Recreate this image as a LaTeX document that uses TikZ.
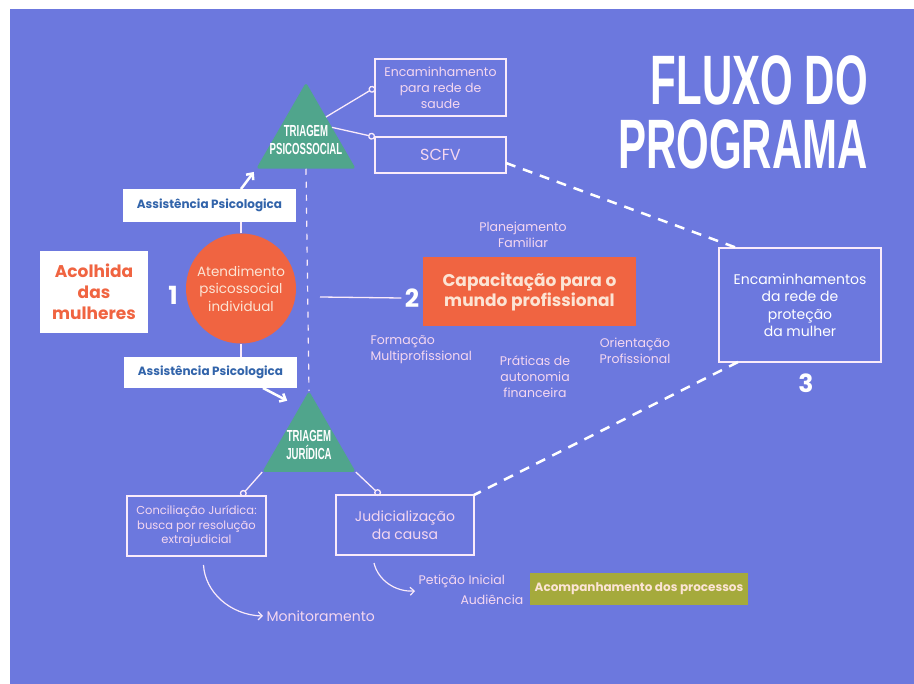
\documentclass[tikz,border=0pt]{standalone}
\usepackage{fontspec}
\setmainfont{Poppins}
\newfontfamily\titfont{Liberation Sans}
\usepackage{graphicx}
\usetikzlibrary{shapes.geometric,arrows.meta,calc,positioning}
\definecolor{fundo}{RGB}{108,120,222}
\definecolor{rosa}{RGB}{245,215,240}
\definecolor{linha}{RGB}{250,235,250}
\definecolor{verde}{RGB}{80,165,140}
\definecolor{laranja}{RGB}{240,100,65}
\definecolor{oliva}{RGB}{165,170,60}
\definecolor{azulesc}{RGB}{50,100,170}
\definecolor{palido}{RGB}{252,228,212}
\newcommand{\estreito}[1]{\scalebox{0.6}[1]{#1}}
\tikzstyle{caixa} = [draw=linha, line width=1.8pt, rectangle, text=rosa, align=center, inner sep=0pt, outer sep=0pt]
\tikzstyle{branca} = [fill=white, rectangle, align=center, inner sep=0pt, outer sep=0pt]
\tikzstyle{triangulo} = [regular polygon, regular polygon sides=3, fill=verde, rounded corners=3pt, inner sep=0pt, outer sep=0pt]
\tikzstyle{tritexto} = [text=white, align=center, font=\titfont\bfseries\fontsize{16}{18}\selectfont]
\tikzstyle{rotulo} = [text=rosa, align=center, font=\fontsize{12.5}{16}\selectfont]
\tikzstyle{numero} = [text=white, font=\bfseries\fontsize{25}{25}\selectfont]
\tikzstyle{liga} = [draw=linha, line width=1.3pt, -{Circle[open,length=7pt]}]
\tikzstyle{fio} = [draw=linha, line width=1.3pt]
\tikzstyle{seta} = [draw=white, line width=2.5pt, -{Straight Barb[length=5pt,width=9pt]}]
\tikzstyle{curva} = [draw=linha, line width=1.2pt, -{Straight Barb[length=4pt,width=8pt]}]
\tikzstyle{tracejado} = [draw=white, line width=2.5pt, dash pattern=on 10pt off 8pt]
\tikzstyle{pontilhado} = [draw=linha, line width=1.2pt, dash pattern=on 6pt off 7pt]
\begin{document}
\begin{tikzpicture}[x=1pt, y=-1pt]
	\useasboundingbox (0,0) rectangle (914,684);
	\fill[white] (0,0) rectangle (914,684);
	\fill[fundo] (10,9) rectangle (914,684); %fundo azul

	% titulo
	\node [text=white, align=right, anchor=east, inner sep=0pt, font=\titfont\bfseries\fontsize{70}{64}\selectfont] (titulo) at (868,112) {\estreito{FLUXO DO}\\\estreito{PROGRAMA}};

	% etapa 1
	\node [branca, minimum width=108, minimum height=82, text=laranja, font=\bfseries\fontsize{17}{21}\selectfont] (acolhida) at (94,292) {Acolhida\\das\\mulheres};
	\node [numero] (num1) at (173,295) {1};
	\node [circle, fill=laranja, minimum size=110, inner sep=0pt, text=palido, align=center, font=\fontsize{13.5}{17.5}\selectfont] (atend) at (241,288.5) {Atendimento\\psicossocial\\individual};
	\node [branca, minimum width=173, minimum height=33, text=azulesc, font=\bfseries\fontsize{12}{14}\selectfont] (assist1) at (209.5,205.5) {Assistência Psicologica};
	\node [branca, minimum width=173, minimum height=31, text=azulesc, font=\bfseries\fontsize{12}{14}\selectfont] (assist2) at (210.5,372.5) {Assistência Psicologica};

	% triagens
	\node [triangulo, minimum size=115] (tpsi) at (306,140) {};
	\node [tritexto] (tpsitxt) at (tpsi.center) {\estreito{TRIAGEM}\\\estreito{PSICOSSOCIAL}};
	\node [triangulo, minimum size=108] (tjur) at (309,445) {};
	\node [tritexto] (tjurtxt) at (tjur.center) {\estreito{TRIAGEM}\\\estreito{JURÍDICA}};

	\node [caixa, minimum width=131, minimum height=57, font=\fontsize{12.5}{16}\selectfont] (saude) at (440.5,87.5) {Encaminhamento\\para rede de\\saude};
	\node [caixa, minimum width=131, minimum height=36, font=\fontsize{16}{18}\selectfont] (scfv) at (440.5,155) {SCFV};
	\node [caixa, minimum width=139, minimum height=60, font=\fontsize{11.5}{14.5}\selectfont] (concil) at (196.5,526) {Conciliação Jurídica:\\busca por resolução\\extrajudicial};
	\node [caixa, minimum width=138, minimum height=60, font=\fontsize{14}{18}\selectfont] (judic) at (405,525) {Judicialização\\da causa};

	% etapa 2
	\node [numero] (num2) at (412,298) {2};
	\node [rectangle, fill=laranja, minimum width=213, minimum height=69, inner sep=0pt, text=palido, align=center, font=\bfseries\fontsize{17}{20}\selectfont] (capac) at (529.5,291.5) {Capacitação para o\\mundo profissional};
	\node [rotulo] (planej) at (523,234.5) {Planejamento\\Familiar};
	\node [rotulo, align=left, anchor=west] (formac) at (367,349.5) {Formação\\Multiprofissional};
	\node [rotulo] (pratic) at (535,377) {Práticas de\\autonomia\\financeira};
	\node [rotulo] (orient) at (635,351) {Orientação\\Profissional};
	\coordinate (inicio2) at (320,297);

	% etapa 3
	\node [caixa, minimum width=162, minimum height=114, text=white, font=\fontsize{14}{17.5}\selectfont] (rede) at (800,305) {Encaminhamentos\\da rede de\\proteção\\da mulher};
	\node [numero] (num3) at (806,383) {3};

	% processos
	\node [rotulo, anchor=west, font=\fontsize{14}{16}\selectfont] (monit) at (263,616) {Monitoramento};
	\node [rotulo, anchor=west] (peticao) at (415,581) {Petição Inicial};
	\node [rotulo, anchor=west] (audienc) at (457,600) {Audiência};
	\node [rectangle, fill=oliva, minimum width=218, minimum height=32, inner sep=0pt, text=palido, font=\bfseries\fontsize{12}{14}\selectfont] (acomp) at (639,589) {Acompanhamento dos processos};

	% ligacoes
	\draw [fio] (atend.north) -- (atend.north |- assist1.south);
	\draw [fio] (atend.south) -- (atend.south |- assist2.north);
	\draw [seta, shorten >=4pt] (atend.north |- assist1.north) -- (tpsi.corner 2);
	\draw [seta, shorten >=14pt] ($(assist2.south east)+(-34,0)$) -- ($(tjur.corner 1)!0.2!(tjur.corner 2)$);
	\draw [pontilhado] (tpsi.south) -- (tjur.corner 1);
	\draw [liga] ($(tpsi.corner 1)!0.4!(tpsi.corner 3)$) -- (saude.west);
	\draw [liga] ($(tpsi.corner 1)!0.52!(tpsi.corner 3)$) -- (scfv.north west);
	\draw [liga] (tjur.corner 2) -- ($(concil.north west)!0.82!(concil.north east)$);
	\draw [liga] (tjur.corner 3) -- ($(judic.north west)!0.32!(judic.north east)$);
	\draw [fio] (inicio2) -- (num2.west);
	\draw [tracejado] ($(scfv.east)+(0,8)$) -- ($(rede.north west)+(18,0)$);
	\draw [tracejado] ($(rede.south west)+(19,0)$) -- (judic.north east);
	\draw [curva] ($(concil.south)+(7,9)$) .. controls (205,592) and (230,615) .. (monit.west);
	\draw [curva] ($(judic.south)+(-31,8)$) .. controls (378,580) and (395,592) .. ($(peticao.west)+(0,10)$);
\end{tikzpicture}
\end{document}
